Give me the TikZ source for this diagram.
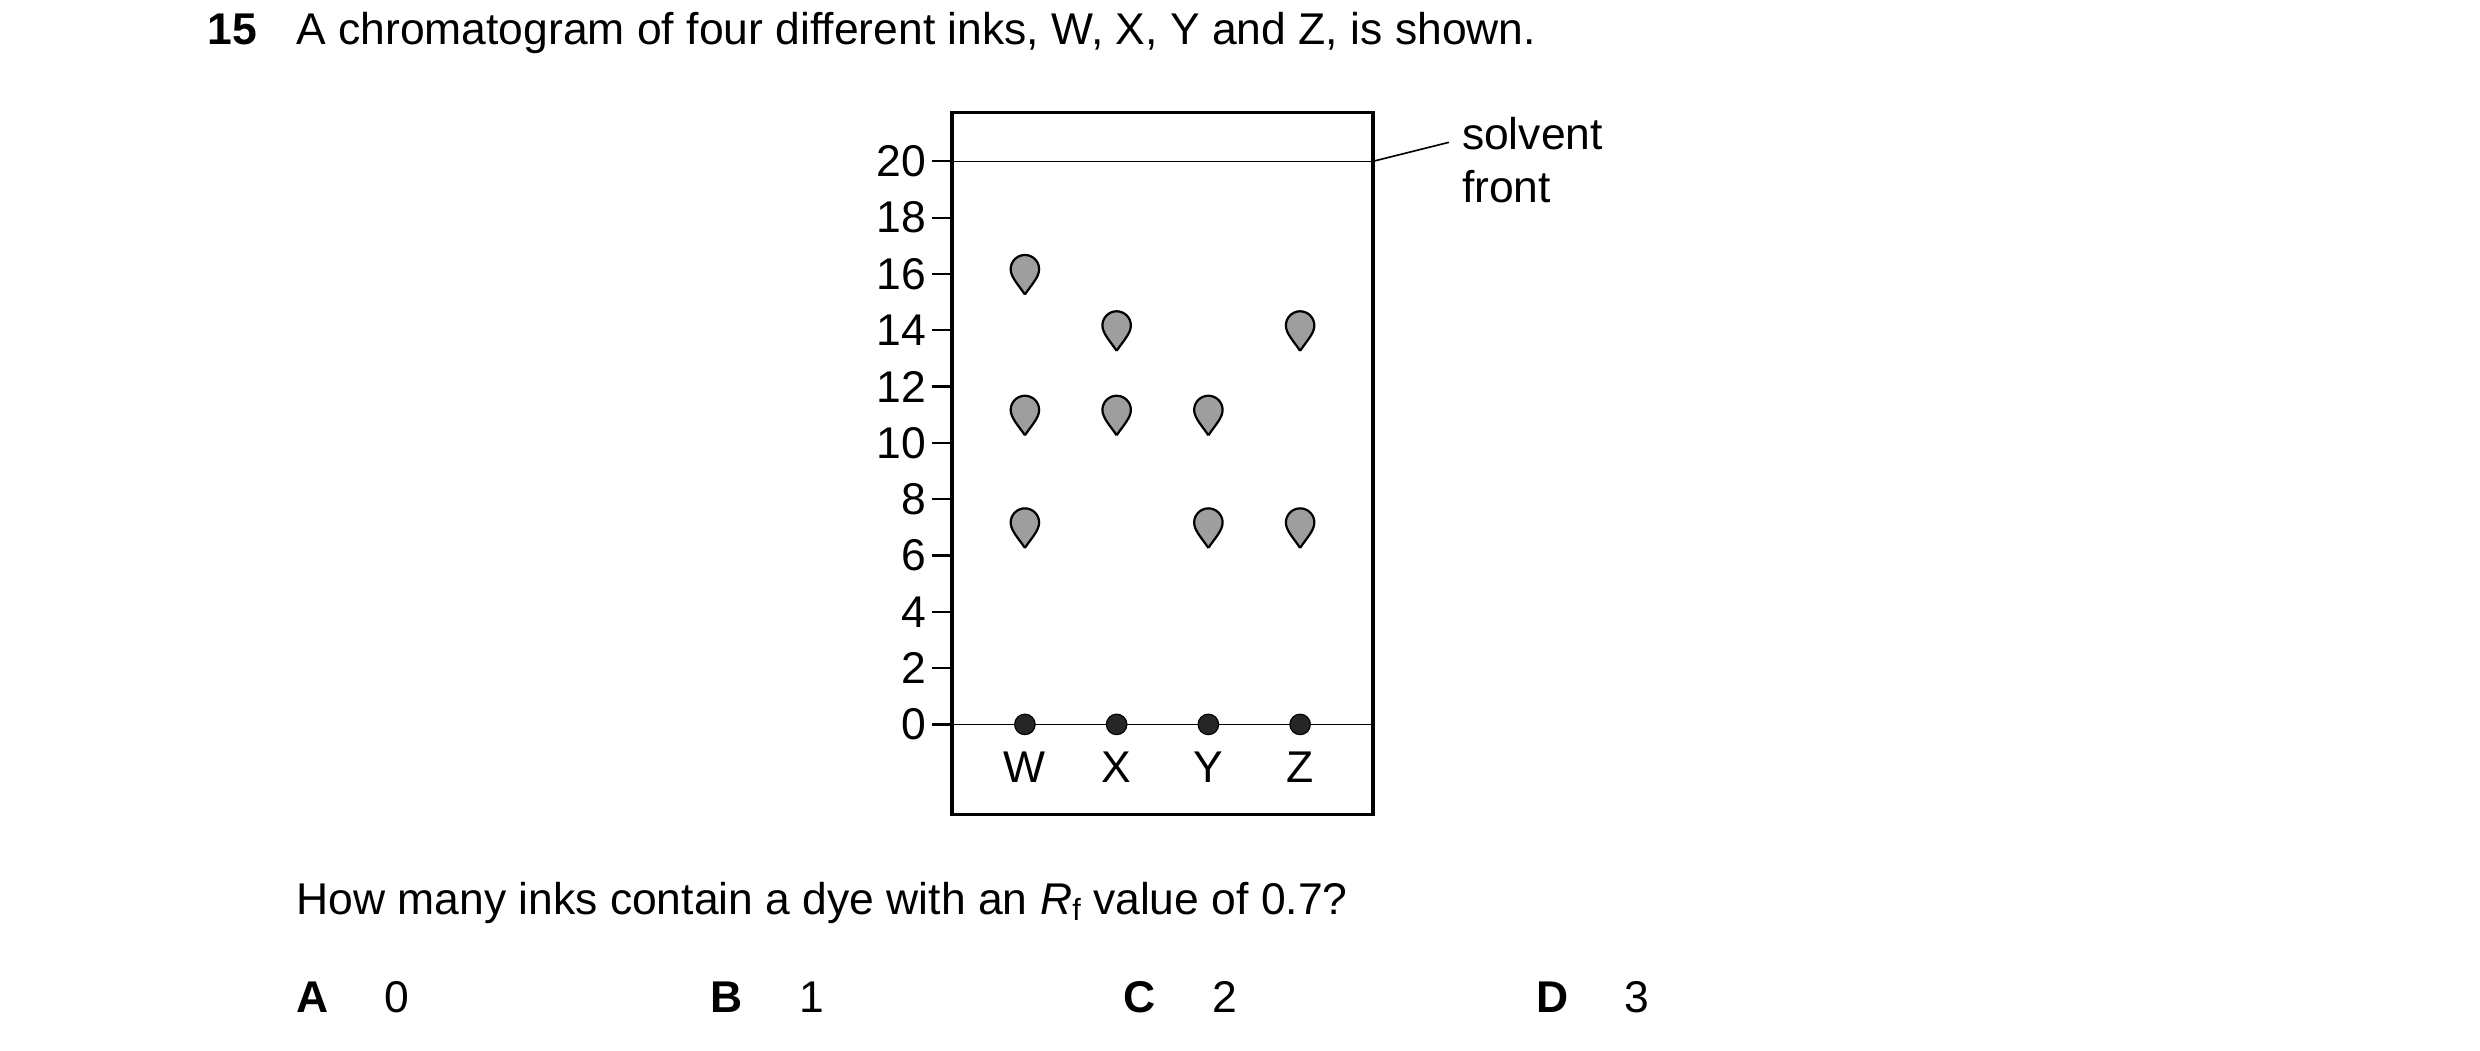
\documentclass[tikz,border=0pt]{standalone}
\usepackage{fontspec}
\setmainfont{Liberation Sans}
\usetikzlibrary{positioning}
\tikzset{
  txt/.style={anchor=base west, inner sep=0pt, font=\fontsize{16}{19}\selectfont},
  num/.style={anchor=east, inner sep=0pt, font=\fontsize{16}{19}\selectfont},
  startdot/.style={shape=circle, draw=black, fill=black!85, minimum size=0.26cm, inner sep=0pt},
  pics/drop/.style={code={
    \draw[fill=black!38, line width=0.8pt] (0,15) .. controls (-4,9) and (-9,4) .. (-9,-1)
      arc[start angle=180, end angle=360, radius=9] .. controls (9,4) and (4,9) .. (0,15);}}
}
\begin{document}
\begin{tikzpicture}[x=0.02cm, y=-0.02cm]
  \useasboundingbox (0,0) rectangle (1568,664);
  %question
  \node[txt, font=\fontsize{16}{19}\selectfont\bfseries] (qn) at (131,28) {15};
  \node[txt] (qtext) at (187,28) {A chromatogram of four different inks, W, X, Y and Z, is shown.};
  %paper
  \draw[line width=1.3pt] (602,71) rectangle (868,515);
  \coordinate (base) at (602,458);
  \draw[line width=0.6pt] (602,458) -- (868,458);
  \draw[line width=0.6pt] (602,102) -- (868,102);
  %axis ticks
  \foreach \v in {0,2,...,20}{
    \draw[line width=0.8pt] (589,{458-17.8*\v}) -- (602,{458-17.8*\v});
    \node[num] (t\v) at (586,{458-17.8*\v}) {\v};
  }
  %solvent front label
  \coordinate (sf) at (868,102);
  \node[txt, align=left, anchor=north west] (front) at (924,74) {solvent\\front};
  \draw[line width=0.6pt] (sf) -- (916,90);
  %start dots and ink names
  \foreach \x/\n in {648/W,706/X,764/Y,822/Z}{
    \node[startdot] (d\n) at (\x,458) {};
    \node[inner sep=0pt, font=\fontsize{16}{19}\selectfont, anchor=center] (l\n) at (\x,485) {\n};
  }
  %spots
  \foreach \x/\v in {648/16,648/11,648/7,706/14,706/11,764/11,764/7,822/14,822/7}{
    \pic at (\x,{458-17.8*\v-2}) {drop};
  }
  %question and options
  \node[txt] (ask) at (187,578) {How many inks contain a dye with an \textit{R}\raisebox{-0.25ex}{\fontsize{11}{12}\selectfont f} value of 0.7?};
  \foreach \x/\l/\a in {187/A/0,449/B/1,710/C/2,971/D/3}{
    \node[txt, font=\fontsize{16}{19}\selectfont\bfseries] (o\l) at (\x,640) {\l};
    \node[txt] (a\l) at (\x+56,640) {\a};
  }
\end{tikzpicture}
\end{document}
